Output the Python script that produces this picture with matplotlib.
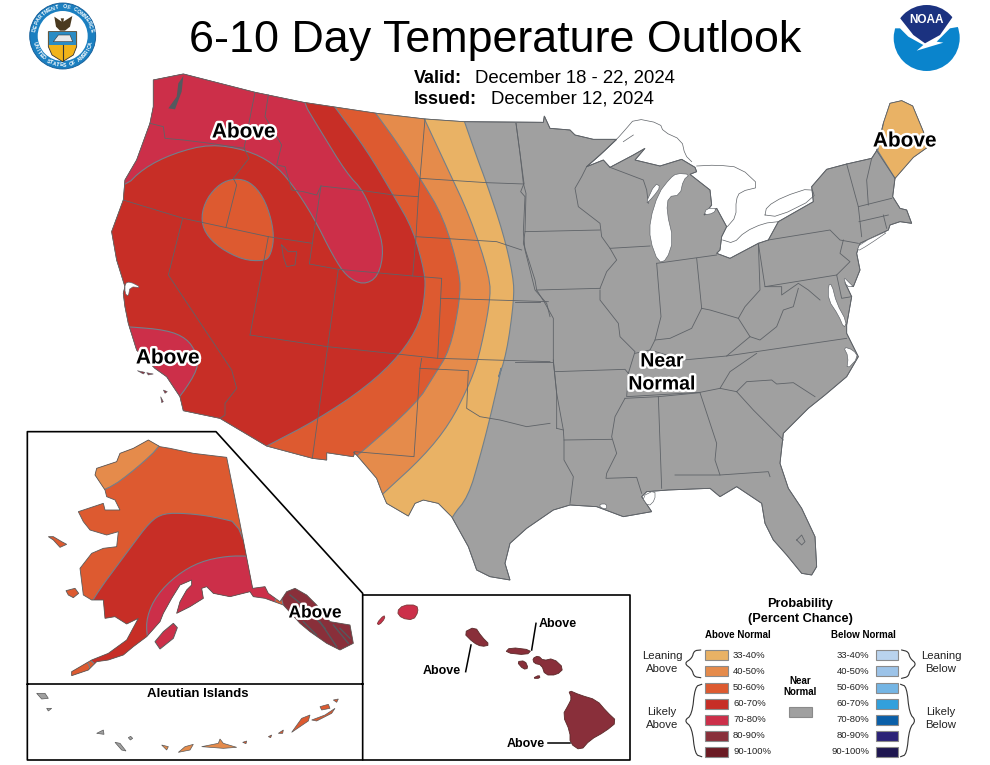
import numpy as np
import matplotlib
matplotlib.use('Agg')
import matplotlib.pyplot as plt
from matplotlib.patches import Polygon, Circle, Rectangle
import matplotlib.patheffects as pe

plt.rcParams['font.family'] = ['Liberation Sans', 'DejaVu Sans']

# ---------- text and categories ----------
TITLE = '6-10 Day Temperature Outlook'
VALID = 'December 18 - 22, 2024'
ISSUED = 'December 12, 2024'
RANGES = ['33-40%', '40-50%', '50-60%', '60-70%', '70-80%', '80-90%', '90-100%']
ABOVE_COLORS = ['#E9B265', '#E58B4B', '#DD5A30', '#C72E26', '#CC2F49', '#892F3A', '#6B1A23']
BELOW_COLORS = ['#B9D3EE', '#9CC3E8', '#74B5E4', '#32A0DC', '#0A5FA8', '#2B2277', '#1E1650']
GRAY = '#A0A0A0'
STATE = '#5F6368'
CONTOUR = '#71808C'

# ---------- map geometry (offsets are the crop origins) ----------
def z3(p): return [(100 + x / 3, 60 + y / 3) for x, y in p]
def z4(p): return [(500 + x / 3, 80 + y / 3) for x, y in p]
def z7(p): return [(340 + x / 3, 360 + y / 3) for x, y in p]
def z2(p): return [(20 + x / 3, 425 + y / 3) for x, y in p]
def z5(p): return [(360 + x / 3, 590 + y / 3) for x, y in p]
def z1(p): return [(630 + x / 3, 590 + y / 3) for x, y in p]

def chaikin(p, n=2, closed=False):
    p = np.array(p, float)
    for _ in range(n):
        q = np.roll(p, -1, axis=0) if closed else p[1:]
        a = p if closed else p[:-1]
        l, r = 0.75 * a + 0.25 * q, 0.25 * a + 0.75 * q
        new = np.empty((2 * len(a), 2))
        new[0::2], new[1::2] = l, r
        p = new if closed else np.vstack([p[:1], new, p[-1:]])
    return p

US_OUTLINE = (
    z3([(160, 60), (250, 42), (465, 97), (610, 127), (830, 160), (975, 177), (1090, 185), (1330, 187)])
    + z4([(133, 108), (150, 145), (210, 150), (225, 165), (280, 178), (350, 178), (300, 225), (260, 260),
          (310, 240), (330, 262), (400, 225), (435, 205), (405, 240), (480, 258), (545, 238), (585, 262),
          (590, 275), (570, 283), (630, 330), (635, 375), (612, 405), (650, 385), (680, 440), (665, 470),
          (660, 510), (650, 520), (690, 535), (775, 490), (805, 480), (835, 425), (940, 365), (935, 320),
          (980, 268), (1040, 252), (1115, 235), (1130, 212), (1150, 130), (1170, 70), (1205, 62), (1238, 78),
          (1270, 155), (1285, 200), (1240, 232), (1185, 295), (1178, 350), (1200, 385), (1220, 390),
          (1235, 430), (1200, 425), (1170, 435), (1165, 450), (1080, 490), (1070, 520), (1080, 570),
          (1060, 620), (1035, 608), (1055, 650), (1040, 735), (1040, 760), (1075, 830), (1040, 890),
          (975, 945), (925, 985), (850, 1060), (840, 1150)])
    + z7([(1320, 310), (1345, 385), (1385, 445), (1425, 530), (1430, 620), (1415, 645), (1385, 640), (1340, 585),
          (1300, 540), (1275, 490), (1265, 430), (1190, 380), (1140, 410), (1110, 385), (985, 390), (920, 395),
          (905, 410), (935, 455), (850, 470), (770, 440), (690, 435), (640, 450), (560, 505), (510, 550),
          (495, 610), (510, 660), (450, 650), (410, 630), (385, 560), (335, 470), (295, 430), (250, 420),
          (225, 430), (205, 468), (140, 430), (125, 395), (110, 355), (50, 285), (40, 277)])
    + z3([(765, 1175), (760, 1190), (680, 1178), (680, 1200), (638, 1195), (500, 1158), (360, 1075), (250, 1052),
          (240, 1010), (200, 950), (165, 925), (110, 870), (85, 790), (75, 740), (70, 700), (75, 680), (50, 600),
          (35, 515), (70, 420), (75, 360), (110, 300), (150, 190), (160, 140)])
)

STATE_LINES = [
    z3(p) for p in [
        [(150, 190), (190, 200), (195, 235), (250, 240), (330, 250), (435, 265)],
        [(465, 97), (432, 265), (447, 295), (400, 355), (410, 375), (378, 502)],
        [(505, 105), (495, 170), (545, 255), (530, 315), (555, 320), (575, 390), (610, 395), (650, 405), (663, 378)],
        [(70, 420), (250, 475), (505, 530), (637, 550)],
        [(505, 530), (450, 825)],
        [(248, 475), (205, 645), (395, 930), (410, 985), (375, 1030), (375, 1065), (360, 1075)],
        [(663, 378), (637, 550), (628, 612), (715, 628), (938, 648), (1025, 655), (1013, 895)],
        [(663, 378), (790, 392), (880, 405), (955, 410), (948, 530), (938, 648)],
        [(975, 177), (960, 355), (955, 410)],
        [(960, 355), (1160, 368), (1272, 372)],
        [(948, 530), (1190, 545), (1220, 555), (1265, 570)],
        [(715, 628), (683, 860), (637, 1195)],
        [(450, 825), (683, 860), (1013, 895), (1350, 905)],
        [(1022, 715), (1345, 725)],
        [(965, 895), (960, 925), (942, 1190), (765, 1175)],
        [(960, 925), (1105, 932), (1100, 1045), (1140, 1070), (1200, 1080), (1280, 1100), (1350, 1090)],
        [(1248, 190), (1272, 370), (1262, 395), (1275, 410), (1270, 515), (1275, 570), (1305, 690), (1340, 730), (1350, 770)],
    ]
] + [
    z4(p) for p in [
        [(48, 130), (60, 220), (70, 310), (78, 340), (75, 455), (300, 450)],
        [(260, 260), (245, 290), (225, 325), (235, 380), (300, 430), (305, 470), (330, 505), (450, 498)],
        [(110, 630), (300, 625)],
        [(75, 455), (70, 490), (105, 600), (110, 630), (135, 670), (160, 715), (160, 845), (170, 940), (190, 1050)],
        [(45, 665), (120, 665)], [(45, 845), (160, 845)],
        [(165, 875), (375, 868), (385, 880), (380, 950), (600, 937), (660, 925), (710, 935)],
        [(300, 630), (300, 660), (355, 730), (360, 770), (405, 815), (385, 880)],
        [(300, 625), (320, 575), (350, 540), (330, 505)],
        [(470, 550), (483, 710), (465, 780), (450, 810), (405, 820)],
        [(470, 550), (650, 525)], [(590, 535), (605, 685)],
        [(465, 780), (510, 775), (575, 745), (605, 685), (630, 690), (715, 715), (735, 680), (780, 630), (775, 490)],
        [(775, 490), (795, 620), (1010, 585)],
        [(805, 480), (990, 450), (1020, 480), (1075, 490)],
        [(1030, 480), (1020, 520), (1050, 545), (1010, 585), (1025, 655), (1055, 650)],
        [(795, 620), (845, 620), (845, 645), (895, 610), (925, 630), (960, 660)],
        [(895, 625), (880, 680), (850, 690), (830, 740), (780, 780), (750, 770), (715, 715)],
        [(450, 810), (550, 840), (680, 828), (1040, 775)],
        [(680, 828), (750, 770)], [(770, 820), (690, 875), (660, 925)],
        [(710, 935), (740, 905), (815, 900), (830, 912), (880, 908), (945, 950)],
        [(1040, 252), (1075, 380), (1085, 470)],
        [(1075, 380), (1175, 355)], [(1077, 425), (1165, 405)],
        [(1115, 235), (1100, 300), (1105, 375)],
        [(1130, 212), (1185, 295)], [(1150, 405), (1160, 445)],
        [(330, 262), (430, 300), (440, 330), (445, 370)],
    ]
] + [
    z7(p) for p in [
        [(640, 0), (650, 100), (650, 205)],
        [(650, 205), (670, 210), (672, 240), (672, 300), (700, 350), (690, 430)],
        [(672, 240), (815, 238)],
        [(855, 115), (825, 170), (815, 230), (830, 280), (800, 340), (798, 355), (890, 352), (905, 400)],
        [(855, 115), (955, 110), (1080, 98)], [(955, 110), (965, 385)],
        [(1080, 98), (1130, 250), (1125, 300), (1140, 345)],
        [(1005, 345), (1140, 345), (1285, 335), (1290, 350)],
        [(1190, 95), (1240, 150), (1300, 210), (1330, 240)],
        [(1370, 540), (1385, 525), (1395, 545), (1385, 555), (1370, 540)],
    ]
] + [z3([(545, 555), (565, 575), (590, 575), (585, 615), (560, 620), (550, 590), (545, 555)])]

# probability areas: nested, each covers everything west of its edge
EDGE_33 = z3([(1090, 175), (1130, 290), (1160, 370), (1210, 520), (1240, 650), (1242, 720), (1220, 880), (1190, 970)]) \
    + z7([(490, 0), (450, 175), (420, 290), (385, 410), (335, 470), (320, 520)])
EDGE_40 = z3([(970, 170), (1040, 320), (1110, 470), (1170, 650), (1170, 730), (1135, 900)]) \
    + z7([(385, 80), (330, 190), (250, 290), (130, 400), (100, 430)])
EDGE_50 = z3([(820, 150), (900, 260), (960, 355), (1030, 470), (1080, 640), (1080, 720), (1050, 870), (1000, 950),
              (950, 1030), (770, 1190), (730, 1215)])
EDGE_60 = z3([(700, 135), (800, 270), (880, 405), (940, 510), (975, 640), (975, 700), (960, 790), (900, 885),
              (800, 980), (650, 1080), (500, 1158), (470, 1175)])
AREA_70_NORTH = z3([(600, 110), (660, 210), (740, 340), (790, 392), (830, 490), (852, 570), (835, 650), (790, 675),
                    (740, 650), (700, 590), (640, 470), (575, 370), (520, 310), (440, 270), (330, 252), (220, 280),
                    (130, 325), (70, 385), (-100, 400), (-100, -50), (600, -50)])
AREA_70_SOUTH = z3([(85, 800), (200, 810), (260, 835), (290, 880), (295, 925), (245, 1005), (200, 1050), (0, 950), (40, 800)])
AREA_50_ISLAND = z3([(405, 355), (450, 365), (490, 410), (515, 480), (522, 540), (510, 590), (490, 603), (430, 600),
                     (360, 565), (315, 520), (303, 470), (320, 415), (360, 370)])
AREA_MAINE = z4([(1150, 130), (1133, 212), (1185, 295), (1350, 300), (1350, 30), (1150, 30)])

LAKES = [
    z4([(510, 295), (475, 340), (450, 420), (450, 480), (475, 548), (500, 540), (520, 480), (500, 395), (505, 350),
        (540, 345), (550, 300), (570, 283), (530, 280)]),
    z4([(435, 375), (465, 310), (482, 320), (460, 350)]),
    z4([(612, 405), (620, 385), (650, 385), (640, 400)]),
    z4([(985, 615), (995, 612), (1010, 670), (1040, 725), (1032, 745), (1015, 705), (985, 660)]),
    z4([(1175, 447), (1080, 490), (1070, 515), (1105, 495)]),
    z4([(1030, 590), (1050, 610), (1060, 620), (1040, 620)]),
    z4([(1030, 800), (1060, 810), (1075, 832), (1040, 870), (1045, 830)]),
    z3([(75, 670), (90, 665), (125, 683), (90, 680), (85, 710), (75, 700)]),
    z7([(905, 410), (945, 390), (945, 420), (925, 440)]),
    z7([(780, 432), (800, 432), (800, 448), (780, 442)]),
]
SHORE_LINES = [
    z4([(260, 260), (300, 225), (350, 178), (375, 150), (405, 115), (480, 130), (490, 155), (545, 180), (555, 225), (575, 245)]),
    z4([(590, 258), (650, 255), (720, 262), (782, 320), (720, 335), (708, 360), (708, 410), (682, 440)]),
    z4([(668, 480), (700, 490), (735, 455), (790, 430), (835, 425)]),
    z4([(795, 405), (800, 380), (850, 350), (935, 322), (945, 355), (835, 410), (795, 405)]),
    z4([(370, 185), (400, 165)]),
]
PUGET = z3([(205, 145), (230, 110), (235, 70), (250, 48), (245, 95), (225, 148)])
CHANNEL_ISLANDS = [z3([(112, 932), (135, 937), (130, 942)]), z3([(140, 938), (160, 942), (145, 945)]),
                   z3([(190, 990), (202, 995), (195, 1000)]), z3([(182, 1010), (190, 1025), (185, 1028)])]

ALASKA = z2([(385, 45), (420, 65), (450, 70), (520, 85), (620, 97), (660, 295), (698, 490), (735, 485), (745, 505),
             (780, 530), (800, 500), (825, 490), (860, 510), (890, 540), (930, 590), (990, 600), (1000, 655),
             (960, 675), (920, 655), (870, 620), (840, 595), (790, 540), (735, 520), (700, 515), (690, 500),
             (630, 515), (580, 505), (560, 485), (545, 490), (550, 520), (510, 545), (470, 565), (480, 530),
             (500, 495), (515, 480), (515, 465), (480, 480), (455, 520), (430, 565), (420, 590), (380, 635),
             (340, 665), (310, 690), (265, 705), (230, 710),
             (205, 735), (155, 752), (155, 740), (215, 705), (265, 685), (320, 645), (355, 580), (320, 597),
             (285, 575), (255, 580), (250, 525), (215, 525), (190, 510), (180, 430), (215, 385), (250, 370),
             (290, 365), (295, 320), (260, 330), (210, 315), (190, 290), (175, 260), (250, 235), (255, 255),
             (300, 255), (285, 225), (260, 215), (255, 195), (225, 150), (230, 130), (290, 110), (300, 85), (340, 70)])
AK_40 = z2([(430, 55), (350, 130), (260, 197), (150, 220), (150, 0), (430, 0)])
AK_60 = z2([(670, 297), (580, 275), (500, 265), (430, 265), (390, 290), (330, 370), (215, 525), (170, 620), (240, 760), (500, 760), (720, 600)])
AK_70 = z2([(690, 393), (620, 393), (540, 410), (470, 450), (410, 510), (380, 575), (380, 635), (400, 690), (760, 590), (770, 480), (720, 400)])
AK_80 = z2([(785, 470), (1050, 470), (1050, 720), (880, 720), (782, 540)])
AK_TIP = z2([(100, 700), (200, 700), (215, 745), (100, 800)])
AK_ORANGE_ISLANDS = [z2([(85, 335), (100, 335), (125, 350), (140, 358), (120, 367), (100, 345)]),
                     z2([(138, 497), (165, 490), (176, 505), (160, 518), (145, 510)])]
KODIAK = z2([(405, 650), (430, 620), (460, 595), (472, 608), (460, 640), (420, 672)])
AK_FJORDS = [z2([(850, 590), (890, 630)]), z2([(900, 590), (950, 665)]), z2([(940, 600), (985, 655)]),
             z2([(810, 510), (860, 550)]), z2([(870, 560), (915, 610)]), z2([(960, 610), (990, 640)])]

ALEUT_DEEP = [z2(p) for p in [
    [(815, 922), (845, 880), (870, 870), (865, 888), (840, 905)],
    [(875, 885), (915, 870), (945, 850), (935, 865), (890, 888)],
    [(900, 845), (925, 838), (930, 850), (905, 855)],
    [(940, 825), (955, 822), (950, 832)],
    [(668, 952), (680, 948), (678, 956)],
    [(745, 935), (755, 930), (752, 938)],
    [(775, 925), (790, 915), (788, 925)],
]]
ALEUT_ORANGE = [z2(p) for p in [
    [(545, 965), (595, 955), (600, 942), (610, 955), (650, 967), (610, 970)],
    [(425, 960), (445, 965), (440, 975)],
    [(475, 982), (495, 965), (520, 958), (510, 975)],
]]
ALEUT_GRAY = [z2(p) for p in [
    [(50, 805), (75, 805), (85, 820), (65, 822)],
    [(80, 850), (95, 850), (85, 858)],
    [(230, 925), (250, 915), (252, 928)],
    [(285, 952), (300, 955), (318, 978), (305, 975)],
    [(325, 938), (332, 934), (338, 940), (331, 945)],
]]

HI_70 = [z5([(110, 65), (130, 45), (170, 45), (175, 65), (160, 90), (125, 85)]),
         z5([(50, 100), (72, 75), (75, 85), (58, 105)])]
HI_80 = [z5([(310, 128), (345, 110), (365, 140), (390, 165), (365, 170), (340, 158)]),
         z5([(435, 188), (450, 172), (515, 180), (500, 195)]),
         z5([(470, 215), (495, 212), (505, 235), (490, 238)]),
         z5([(518, 205), (535, 197), (550, 212), (580, 205), (612, 235), (590, 255), (555, 255), (545, 225), (522, 220)]),
         z5([(518, 265), (538, 255), (540, 265)]),
         z5([(625, 300), (660, 315), (710, 330), (740, 365), (772, 395), (735, 425), (690, 450), (662, 482), (630, 460),
             (630, 425), (608, 375), (625, 345), (635, 325)])]
HI_LEADERS = [z5([(333, 165), (317, 245)]), z5([(515, 180), (528, 100)]), z5([(565, 460), (630, 460)])]

# ---------- figure ----------
fig = plt.figure(figsize=(9.9, 7.65), dpi=100)
ax = fig.add_axes([0, 0, 1, 1])
ax.set_xlim(0, 990)
ax.set_ylim(765, 0)
ax.axis('off')

us = Polygon(US_OUTLINE, closed=True, fc=GRAY, ec=STATE, lw=0.6, zorder=1)
ax.add_patch(us)

def west_of(edge):
    return list(map(tuple, chaikin(edge))) + [(60, edge[-1][1] + 40), (60, edge[0][1] - 60)]

def area(poly, color, clip=us, smooth=True, z=2):
    pts = chaikin(poly, closed=True) if smooth else poly
    p = Polygon(pts, closed=True, fc=color, ec=CONTOUR, lw=0.8, zorder=z)
    ax.add_patch(p)
    if clip is not None:
        p.set_clip_path(clip)
    return p

for edge, col in [(EDGE_33, ABOVE_COLORS[0]), (EDGE_40, ABOVE_COLORS[1]), (EDGE_50, ABOVE_COLORS[2]), (EDGE_60, ABOVE_COLORS[3])]:
    area(west_of(edge), col, smooth=False)
area(AREA_70_NORTH, ABOVE_COLORS[4])
area(AREA_70_SOUTH, ABOVE_COLORS[4])
area(AREA_50_ISLAND, ABOVE_COLORS[2])
area(AREA_MAINE, ABOVE_COLORS[0], smooth=False)

for line in STATE_LINES:
    ax.plot(*zip(*line), color=STATE, lw=0.6, zorder=3, solid_joinstyle='round')
ax.add_patch(Polygon(US_OUTLINE, closed=True, fc='none', ec=STATE, lw=0.6, zorder=4))
for lake in LAKES:
    ax.add_patch(Polygon(chaikin(lake, 1, True), closed=True, fc='white', ec=STATE, lw=0.45, zorder=4))
for line in SHORE_LINES:
    ax.plot(*chaikin(line, 1).T, color=STATE, lw=0.5, zorder=4)
ax.add_patch(Polygon(PUGET, closed=True, fc='#55595E', ec='none', zorder=4))
for isl in CHANNEL_ISLANDS:
    ax.add_patch(Polygon(isl, closed=True, fc='#892F3A', ec=STATE, lw=0.4, zorder=4))

# Alaska
ak = Polygon(ALASKA, closed=True, fc=ABOVE_COLORS[2], ec='none', zorder=1)
ax.add_patch(ak)
area(AK_40, ABOVE_COLORS[1], clip=ak)
area(AK_60, ABOVE_COLORS[3], clip=ak)
area(AK_70, ABOVE_COLORS[4], clip=ak)
area(AK_80, ABOVE_COLORS[5], clip=ak)
area(AK_TIP, ABOVE_COLORS[2], clip=ak)
ax.add_patch(Polygon(ALASKA, closed=True, fc='none', ec='#5A5A5A', lw=0.6, zorder=4))
for isl in AK_ORANGE_ISLANDS:
    ax.add_patch(Polygon(isl, closed=True, fc=ABOVE_COLORS[2], ec='#5A5A5A', lw=0.6, zorder=4))
ax.add_patch(Polygon(KODIAK, closed=True, fc=ABOVE_COLORS[4], ec='#5A5A5A', lw=0.7, zorder=4))
for f in AK_FJORDS:
    ax.plot(*zip(*f), color='#55595E', lw=1.0, zorder=4)
for isl in ALEUT_DEEP:
    ax.add_patch(Polygon(isl, closed=True, fc=ABOVE_COLORS[2], ec='#5A5A5A', lw=0.5, zorder=4))
for isl in ALEUT_ORANGE:
    ax.add_patch(Polygon(isl, closed=True, fc=ABOVE_COLORS[1], ec='#5A5A5A', lw=0.5, zorder=4))
for isl in ALEUT_GRAY:
    ax.add_patch(Polygon(isl, closed=True, fc=GRAY, ec='#5A5A5A', lw=0.5, zorder=4))

# Hawaii
for isl in HI_70:
    ax.add_patch(Polygon(chaikin(isl, 1, True), closed=True, fc=ABOVE_COLORS[4], ec='#7A3A3A', lw=0.6, zorder=4))
for isl in HI_80:
    ax.add_patch(Polygon(chaikin(isl, 1, True), closed=True, fc=ABOVE_COLORS[5], ec='#5A2A2A', lw=0.6, zorder=4))
for l in HI_LEADERS:
    ax.plot(*zip(*l), color='black', lw=1.1, zorder=5)

# frames
for line in [z2([(22, 777), (22, 20), (588, 20), (1028, 505), (1028, 1005), (22, 1005), (22, 777), (1028, 777)]),
             [(363, 595), (630, 595), (630, 760), (363, 760)]]:
    ax.plot(*zip(*line), color='black', lw=1.2, zorder=6)

# text
ax.text(495, 36, TITLE, ha='center', va='center_baseline', fontsize=32.3, color='black')
ax.text(414, 78, 'Valid:', ha='left', va='center', fontsize=13, fontweight='bold')
ax.text(475, 78, VALID, ha='left', va='center', fontsize=13.4)
ax.text(414, 99, 'Issued:', ha='left', va='center', fontsize=13, fontweight='bold')
ax.text(491, 99, ISSUED, ha='left', va='center', fontsize=13.4)

halo = [pe.withStroke(linewidth=3.5, foreground='white')]
for x, y, s, size in [(244, 132, 'Above', 15), (168, 358, 'Above', 15), (905, 141, 'Above', 15),
                      (662, 362, 'Near', 14), (662, 385, 'Normal', 14), (315, 613, 'Above', 12.5)]:
    ax.text(x, y, s, ha='center', va='center', fontsize=size, fontweight='bold', color='black',
            path_effects=halo, zorder=8)
ax.text(198, 694, 'Aleutian Islands', ha='center', va='center', fontsize=9.5, fontweight='bold', zorder=8)
for x, y in [(442, 671), (558, 624), (526, 744)]:
    ax.text(x, y, 'Above', ha='center', va='center', fontsize=9, fontweight='bold', zorder=8)

# legend
ax.text(800, 604, 'Probability', ha='center', va='center', fontsize=9.2, fontweight='bold')
ax.text(800, 619, '(Percent Chance)', ha='center', va='center', fontsize=9.2, fontweight='bold')
ax.text(738, 635, 'Above Normal', ha='center', va='center', fontsize=7, fontweight='bold')
ax.text(863, 635, 'Below Normal', ha='center', va='center', fontsize=7, fontweight='bold')
ys = [655, 671, 688, 704, 720, 736, 752]
for y, r, ca, cb in zip(ys, RANGES, ABOVE_COLORS, BELOW_COLORS):
    ax.add_patch(Rectangle((704.5, y - 5), 23, 10, fc=ca, ec='#8A8A8A', lw=0.8))
    ax.add_patch(Rectangle((875.5, y - 5), 22, 10, fc=cb, ec='#8A8A8A', lw=0.8))
    ax.text(733, y, r, ha='left', va='center', fontsize=6.8, color='#222222')
    ax.text(869, y, r, ha='right', va='center', fontsize=6.8, color='#222222')
ax.add_patch(Rectangle((789, 706.5), 22.5, 10, fc=GRAY, ec='#8A8A8A', lw=0.8))
ax.text(800, 681, 'Near', ha='center', va='center', fontsize=7, fontweight='bold')
ax.text(800, 692, 'Normal', ha='center', va='center', fontsize=7, fontweight='bold')
for x, y, s in [(662, 656, 'Leaning'), (662, 669, 'Above'), (662, 712, 'Likely'), (662, 725, 'Above'),
                (941, 656, 'Leaning'), (941, 669, 'Below'), (941, 712, 'Likely'), (941, 725, 'Below')]:
    ax.text(x, y, s, ha='center', va='center', fontsize=8.2, color='#222222')
BRACES = [[(212, 180), (192, 182), (186, 205), (162, 220), (186, 238), (192, 260), (212, 263)],
          [(215, 283), (195, 290), (186, 375), (162, 392), (186, 412), (195, 493), (215, 500)],
          [(815, 180), (835, 185), (840, 205), (860, 222), (840, 240), (835, 260), (815, 265)],
          [(812, 283), (830, 290), (838, 370), (858, 392), (838, 415), (830, 493), (812, 500)]]
for b in BRACES:
    ax.plot(*chaikin(z1(b)).T, color='#333333', lw=0.8)

# Department of Commerce seal
def z8(p): return [(20 + x / 3, y / 3) for x, y in p]
cx, cy = 62.7, 36
ax.add_patch(Circle((cx, cy), 33, fc='#1B7FC0', ec='#125A95', lw=0.6))
ax.add_patch(Circle((cx, cy), 25, fc='white', ec='none'))
ax.add_patch(Polygon(z8([(85, 95), (170, 95), (170, 140), (160, 165), (128, 185), (96, 165), (85, 140)]), closed=True, fc='#F2B319', ec='#333333', lw=0.6))
ax.add_patch(Polygon(z8([(87, 97), (168, 97), (168, 135), (87, 135)]), closed=True, fc='#2B8CC4', ec='none'))
ax.add_patch(Polygon(z8([(100, 125), (115, 105), (150, 105), (158, 125)]), closed=True, fc='#E9E9E9', ec='#333333', lw=0.4))
ax.plot(*zip(*z8([(128, 135), (128, 180)])), color='#333333', lw=0.8)
ax.add_patch(Polygon(z8([(103, 50), (125, 65), (122, 55), (132, 55), (130, 65), (157, 48), (150, 80), (135, 92), (120, 92), (108, 80)]), closed=True, fc='#4A3A20', ec='none'))

def arc_text(s, radius, start, end, top=True):
    angs = np.linspace(start, end, len(s))
    for ch, a in zip(s, angs):
        x = cx + radius * np.cos(np.radians(a))
        y = cy - radius * np.sin(np.radians(a))
        rot = a - 90 if top else a + 90
        ax.text(x, y, ch, ha='center', va='center', rotation=rot, fontsize=3.8, fontweight='bold', color='white')
arc_text('DEPARTMENT OF COMMERCE', 29, 168, 12, True)
arc_text('UNITED STATES OF AMERICA', 29, 195, 345, False)

# NOAA logo
def z9(p): return [(880 + x / 3, y / 3) for x, y in p]
ax.add_patch(Circle((926.7, 38), 33, fc='#0A84CC', ec='none'))
ax.add_patch(Polygon(z9([(30, 0), (250, 0), (250, 78), (210, 85), (170, 125), (190, 128), (110, 152), (130, 135), (85, 110), (60, 85), (30, 85)]),
                     closed=True, fc='white', ec='none'))
top = Polygon(z9([(55, 48), (100, 105), (135, 130), (180, 105), (220, 48), (220, 0), (55, 0)]), closed=True, fc='#1B3280', ec='none')
ax.add_patch(top)
top.set_clip_path(Circle((926.7, 38), 33, transform=ax.transData))
ax.text(926.7, 20, 'NOAA', ha='center', va='center', fontsize=8.5, fontweight='bold', color='white')

fig.savefig('out.png', dpi=100)
